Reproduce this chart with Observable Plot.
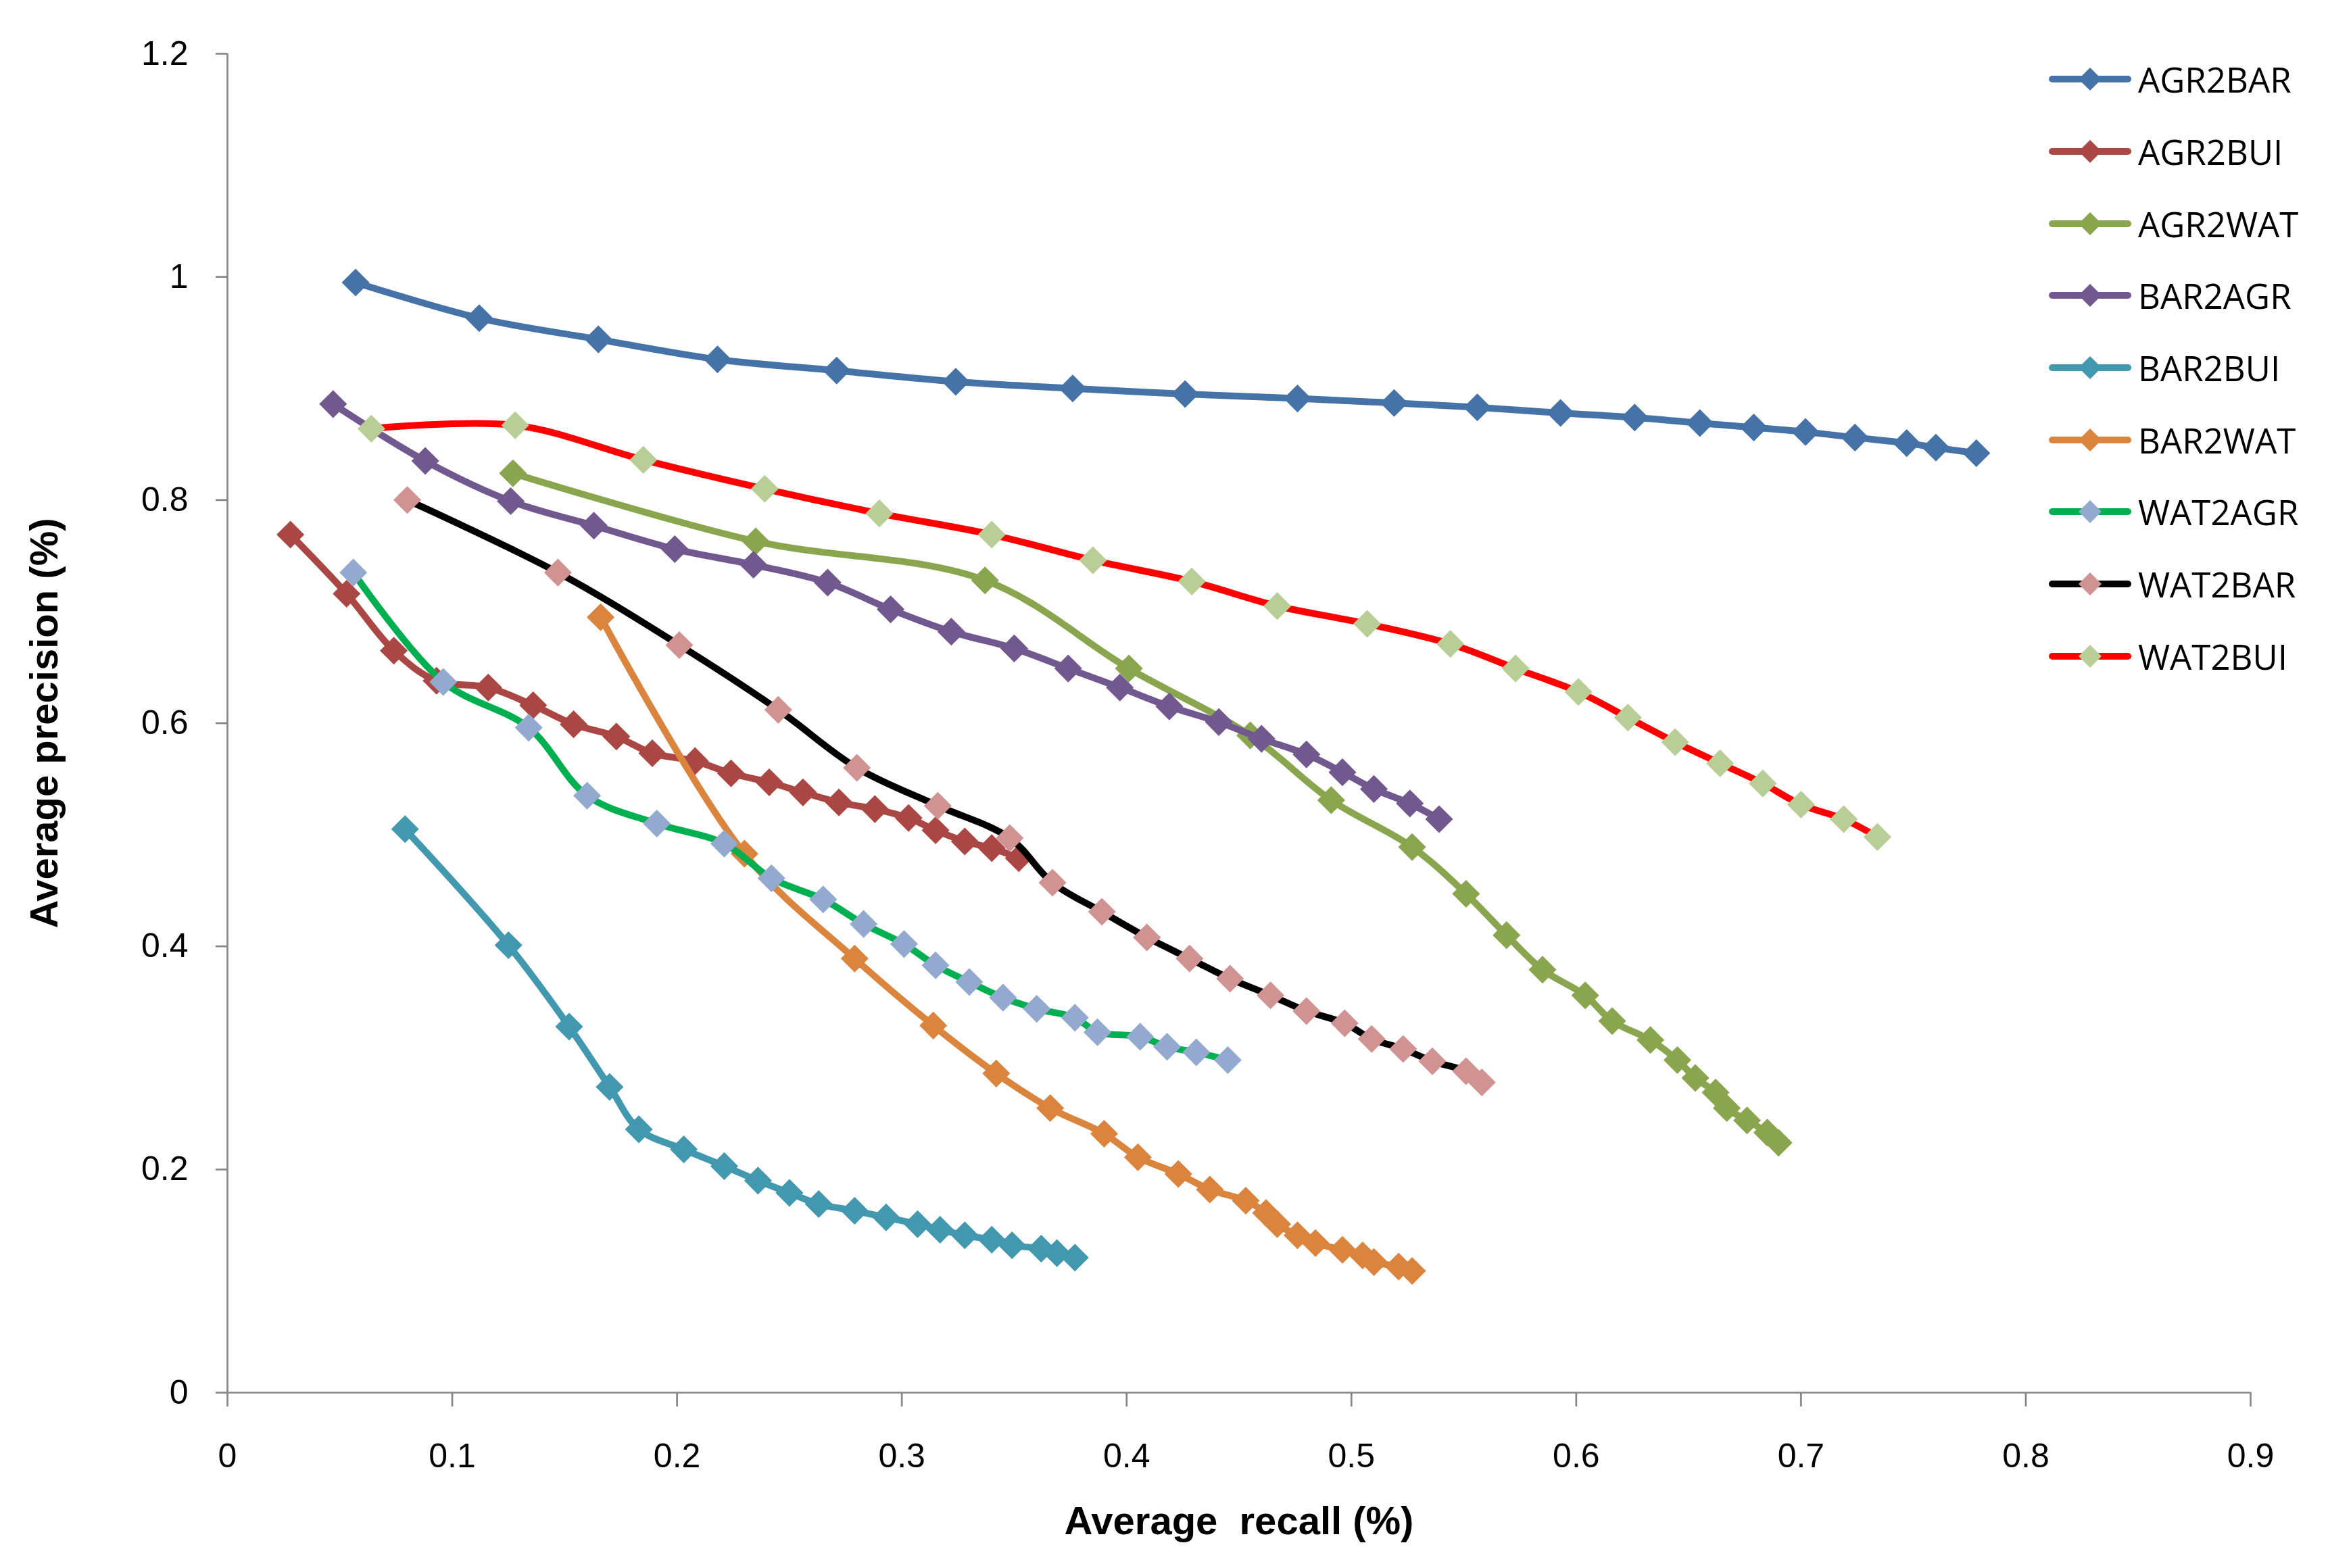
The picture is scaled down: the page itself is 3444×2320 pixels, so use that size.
<!DOCTYPE html>
<html>
<head>
<meta charset="utf-8">
<script src="https://cdn.jsdelivr.net/npm/d3@7"></script>
<script src="https://cdn.jsdelivr.net/npm/@observablehq/plot@0.6"></script>
<style>
  html, body { margin: 0; padding: 0; background: white; }
  #wrap { position: relative; width: 3444px; height: 2320px; }
  #legend { position: absolute; left: 3031px; top: 64px; font-family: "Open Sans", sans-serif; font-size: 51px; color: #000; }
  .row { display: flex; align-items: center; height: 106.7px; }
  .row svg { display: block; margin-right: 10px; }
</style>
</head>
<body>
<div id="wrap"><div id="chart"></div><div id="legend"></div></div>
<script>
// ---- data ----
const seriesNames = ["AGR2BAR","AGR2BUI","AGR2WAT","BAR2AGR","BAR2BUI","BAR2WAT","WAT2AGR","WAT2BAR","WAT2BUI"];

const AGR2BAR_x = [0.057,0.112,0.165,0.218,0.271,0.324,0.376,0.426,0.476,0.519,0.556,0.593,0.626,0.655,0.679,0.702,0.724,0.747,0.760,0.778];
const AGR2BAR_y = [0.995,0.963,0.944,0.926,0.916,0.906,0.900,0.895,0.891,0.887,0.883,0.878,0.874,0.869,0.865,0.861,0.856,0.851,0.847,0.842];

const AGR2BUI_x = [0.028,0.053,0.074,0.093,0.116,0.136,0.154,0.173,0.189,0.208,0.224,0.241,0.256,0.272,0.288,0.303,0.315,0.328,0.340,0.352];
const AGR2BUI_y = [0.769,0.716,0.665,0.638,0.632,0.616,0.599,0.588,0.573,0.566,0.555,0.547,0.538,0.529,0.523,0.515,0.504,0.494,0.488,0.479];

const AGR2WAT_x = [0.127,0.235,0.337,0.401,0.455,0.491,0.527,0.551,0.569,0.585,0.604,0.616,0.633,0.645,0.653,0.662,0.667,0.676,0.685,0.690];
const AGR2WAT_y = [0.824,0.763,0.728,0.649,0.589,0.531,0.489,0.447,0.410,0.379,0.356,0.333,0.316,0.298,0.282,0.269,0.255,0.244,0.233,0.224];

const BAR2AGR_x = [0.047,0.088,0.126,0.163,0.199,0.234,0.267,0.295,0.322,0.350,0.374,0.397,0.419,0.441,0.460,0.480,0.496,0.510,0.526,0.539];
const BAR2AGR_y = [0.886,0.835,0.799,0.777,0.756,0.742,0.726,0.702,0.682,0.667,0.649,0.632,0.615,0.601,0.586,0.572,0.556,0.541,0.528,0.514];

const BAR2BUI_x = [0.079,0.125,0.152,0.170,0.183,0.203,0.221,0.236,0.250,0.263,0.279,0.293,0.307,0.317,0.328,0.340,0.349,0.362,0.369,0.377];
const BAR2BUI_y = [0.505,0.401,0.328,0.274,0.236,0.218,0.203,0.190,0.179,0.169,0.163,0.157,0.151,0.146,0.141,0.137,0.132,0.129,0.125,0.121];

const BAR2WAT_x = [0.166,0.230,0.279,0.314,0.342,0.366,0.390,0.405,0.423,0.437,0.453,0.462,0.467,0.476,0.484,0.496,0.505,0.510,0.521,0.527];
const BAR2WAT_y = [0.695,0.483,0.389,0.329,0.286,0.255,0.232,0.211,0.196,0.182,0.172,0.161,0.151,0.141,0.134,0.128,0.123,0.117,0.113,0.109];

const WAT2AGR_x = [0.056,0.096,0.134,0.160,0.191,0.221,0.242,0.265,0.283,0.301,0.315,0.330,0.345,0.360,0.377,0.387,0.406,0.418,0.431,0.445];
const WAT2AGR_y = [0.735,0.637,0.596,0.535,0.510,0.492,0.461,0.442,0.420,0.402,0.383,0.368,0.354,0.344,0.336,0.323,0.319,0.310,0.305,0.298];

const WAT2BAR_x = [0.080,0.147,0.201,0.245,0.280,0.316,0.348,0.367,0.389,0.409,0.428,0.446,0.464,0.480,0.497,0.509,0.523,0.536,0.551,0.558];
const WAT2BAR_y = [0.800,0.735,0.670,0.612,0.560,0.526,0.497,0.457,0.431,0.408,0.389,0.371,0.356,0.342,0.331,0.317,0.308,0.297,0.288,0.278];

const WAT2BUI_x = [0.064,0.128,0.185,0.239,0.290,0.340,0.385,0.429,0.467,0.507,0.544,0.573,0.601,0.623,0.644,0.664,0.683,0.700,0.719,0.734];
const WAT2BUI_y = [0.864,0.867,0.836,0.810,0.788,0.769,0.746,0.727,0.705,0.689,0.671,0.649,0.628,0.605,0.583,0.564,0.546,0.527,0.514,0.498];

const xTicks = [0, 0.1, 0.2, 0.3, 0.4, 0.5, 0.6, 0.7, 0.8, 0.9];
const yTicks = [0, 0.2, 0.4, 0.6, 0.8, 1, 1.2];
const xTitle = "Average\u00a0 recall (%)";
const yTitle = "Average precision (%)";

// ---- styles ----
const lineColor = {
  AGR2BAR: "#4572A7", AGR2BUI: "#AA4643", AGR2WAT: "#89A54E", BAR2AGR: "#71588F",
  BAR2BUI: "#4198AF", BAR2WAT: "#DB843D", WAT2AGR: "#00B050", WAT2BAR: "#000000", WAT2BUI: "#FF0000"
};
const markerColor = {
  AGR2BAR: "#4572A7", AGR2BUI: "#AA4643", AGR2WAT: "#89A54E", BAR2AGR: "#71588F",
  BAR2BUI: "#4198AF", BAR2WAT: "#DB843D", WAT2AGR: "#93A9CF", WAT2BAR: "#D19392", WAT2BUI: "#B9CD96"
};
const axisGray = "#868686";

const xs = {AGR2BAR:AGR2BAR_x, AGR2BUI:AGR2BUI_x, AGR2WAT:AGR2WAT_x, BAR2AGR:BAR2AGR_x, BAR2BUI:BAR2BUI_x, BAR2WAT:BAR2WAT_x, WAT2AGR:WAT2AGR_x, WAT2BAR:WAT2BAR_x, WAT2BUI:WAT2BUI_x};
const ys = {AGR2BAR:AGR2BAR_y, AGR2BUI:AGR2BUI_y, AGR2WAT:AGR2WAT_y, BAR2AGR:BAR2AGR_y, BAR2BUI:BAR2BUI_y, BAR2WAT:BAR2WAT_y, WAT2AGR:WAT2AGR_y, WAT2BAR:WAT2BAR_y, WAT2BUI:WAT2BUI_y};

const seriesMarks = [];
for (const name of seriesNames) {
  const rows = xs[name].map((x, i) => ({series: name, x, y: ys[name][i]}));
  seriesMarks.push(
    Plot.line(rows, {x: "x", y: "y", stroke: lineColor[name], strokeWidth: 10, curve: "catmull-rom", strokeLinecap: "round", strokeLinejoin: "round"}),
    Plot.dot(rows, {x: "x", y: "y", symbol: "diamond2", r: 18.5, fill: markerColor[name], stroke: "none"})
  );
}

const fmt = d3.format("~g");

const chart = Plot.plot({
  width: 3444,
  height: 2320,
  marginLeft: 336,
  marginRight: 115,
  marginTop: 79,
  marginBottom: 260,
  x: {domain: [0, 0.9]},
  y: {domain: [0, 1.2]},
  style: {fontFamily: "'Liberation Sans', Arial, sans-serif", fontSize: "50px", background: "white", color: "black"},
  marks: [
    Plot.axisX(xTicks, {tickSize: 21, tickPadding: 54, tickFormat: fmt, label: null, stroke: axisGray, strokeWidth: 2.7, fill: "black", fontSize: 50}),
    Plot.axisY(yTicks, {tickSize: 17, tickPadding: 41, tickFormat: fmt, label: null, stroke: axisGray, strokeWidth: 2.7, fill: "black", fontSize: 50}),
    Plot.ruleY([0], {stroke: axisGray, strokeWidth: 2.7}),
    Plot.ruleX([0], {stroke: axisGray, strokeWidth: 2.7}),
    ...seriesMarks,
    Plot.text([xTitle], {text: d => d, frameAnchor: "bottom", dy: 191, lineAnchor: "middle", textAnchor: "middle", fontWeight: "bold", fontSize: 58, fill: "black"}),
    Plot.text([yTitle], {text: d => d, frameAnchor: "left", dx: -270, rotate: -90, lineAnchor: "middle", textAnchor: "middle", fontWeight: "bold", fontSize: 58, fill: "black"})
  ]
});
document.getElementById("chart").appendChild(chart);

// ---- legend ----
const legend = document.getElementById("legend");
for (const name of seriesNames) {
  const row = document.createElement("div");
  row.className = "row";
  row.innerHTML = `<svg width="122" height="40" viewBox="0 0 122 40">
    <line x1="5" y1="20" x2="117" y2="20" stroke="${lineColor[name]}" stroke-width="10" stroke-linecap="round"/>
    <path d="M61,3 L78,20 L61,37 L44,20 Z" fill="${markerColor[name]}"/>
  </svg><span>${name}</span>`;
  legend.appendChild(row);
}
</script>
</body>
</html>
